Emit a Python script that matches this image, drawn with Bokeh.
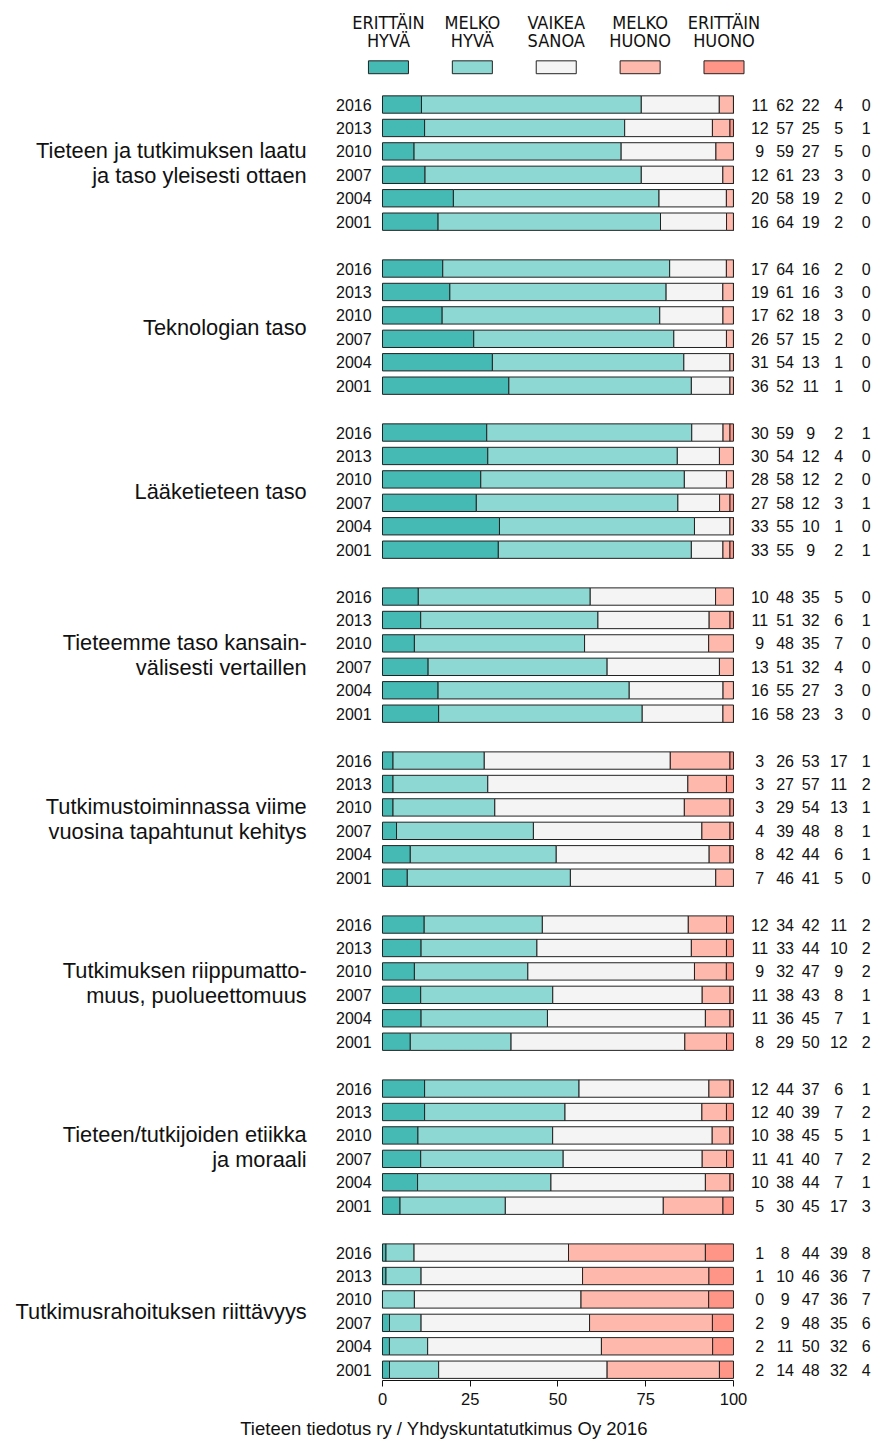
from bokeh.plotting import figure
from bokeh.models import Range1d, FixedTicker, Title, ColumnDataSource
from bokeh.core.properties import value
from bokeh.embed import file_html
from bokeh.resources import INLINE

groups = [
    "Tieteen ja tutkimuksen laatu\nja taso yleisesti ottaen",
    "Teknologian taso",
    "Lääketieteen taso",
    "Tieteemme taso kansain-\nvälisesti vertaillen",
    "Tutkimustoiminnassa viime\nvuosina tapahtunut kehitys",
    "Tutkimuksen riippumatto-\nmuus, puolueettomuus",
    "Tieteen/tutkijoiden etiikka\nja moraali",
    "Tutkimusrahoituksen riittävyys",
]
years = ["2016", "2013", "2010", "2007", "2004", "2001"]
categories = ["ERITTÄIN\nHYVÄ", "MELKO\nHYVÄ", "VAIKEA\nSANOA", "MELKO\nHUONO", "ERITTÄIN\nHUONO"]
colors = ["#45B9B4", "#8DD8D3", "#F4F4F4", "#FFB9AC", "#FF9587"]

erittain_hyva = [11, 12, 9, 12, 20, 16,
                 17, 19, 17, 26, 31, 36,
                 30, 30, 28, 27, 33, 33,
                 10, 11, 9, 13, 16, 16,
                 3, 3, 3, 4, 8, 7,
                 12, 11, 9, 11, 11, 8,
                 12, 12, 10, 11, 10, 5,
                 1, 1, 0, 2, 2, 2]
melko_hyva = [62, 57, 59, 61, 58, 64,
              64, 61, 62, 57, 54, 52,
              59, 54, 58, 58, 55, 55,
              48, 51, 48, 51, 55, 58,
              26, 27, 29, 39, 42, 46,
              34, 33, 32, 38, 36, 29,
              44, 40, 38, 41, 38, 30,
              8, 10, 9, 9, 11, 14]
vaikea_sanoa = [22, 25, 27, 23, 19, 19,
                16, 16, 18, 15, 13, 11,
                9, 12, 12, 12, 10, 9,
                35, 32, 35, 32, 27, 23,
                53, 57, 54, 48, 44, 41,
                42, 44, 47, 43, 45, 50,
                37, 39, 45, 40, 44, 45,
                44, 46, 47, 48, 50, 48]
melko_huono = [4, 5, 5, 3, 2, 2,
               2, 3, 3, 2, 1, 1,
               2, 4, 2, 3, 1, 2,
               5, 6, 7, 4, 3, 3,
               17, 11, 13, 8, 6, 5,
               11, 10, 9, 8, 7, 12,
               6, 7, 5, 7, 7, 17,
               39, 36, 36, 35, 32, 32]
erittain_huono = [0, 1, 0, 0, 0, 0,
                  0, 0, 0, 0, 0, 0,
                  1, 0, 0, 1, 0, 1,
                  0, 1, 0, 0, 0, 0,
                  1, 2, 1, 1, 1, 0,
                  2, 2, 2, 1, 1, 2,
                  1, 2, 1, 2, 1, 3,
                  8, 7, 7, 6, 6, 4]

series = [erittain_hyva, melko_hyva, vaikea_sanoa, melko_huono, erittain_huono]
FONT = value("Liberation Sans")

n_years = len(years)
rows = []
for g in range(len(groups)):
    for r in range(n_years):
        rows.append(g * (n_years + 1) + r)

p = figure(width=887, height=1446, output_backend="svg", toolbar_location=None,
           x_range=Range1d(-108.83, 143.88), y_range=Range1d(54.46, -4.44),
           y_axis_location=None, min_border_left=0, min_border_right=0,
           min_border_top=0, min_border_bottom=0)
p.outline_line_color = None
p.xgrid.visible = False
p.ygrid.visible = False

# stacked, normalised bars
totals = [sum(s[i] for s in series) for i in range(len(rows))]
left = [0.0] * len(rows)
for ci, s in enumerate(series):
    widths = [s[i] / totals[i] * 100 for i in range(len(rows))]
    right = [left[i] + widths[i] for i in range(len(rows))]
    src = ColumnDataSource(dict(y=rows, left=left, right=right))
    p.hbar(y="y", left="left", right="right", height=0.74, source=src,
           fill_color=colors[ci], line_color="#222222", line_width=1)
    left = right

# value columns
col_x = [107.5, 114.7, 122.0, 130.0, 137.8]
for ci, s in enumerate(series):
    src = ColumnDataSource(dict(x=[col_x[ci]] * len(rows), y=rows, t=[str(v) for v in s]))
    p.text(x="x", y="y", text="t", source=src, text_align="center", text_baseline="middle",
           text_font=FONT, text_font_size="16px", text_color="#111111")

# year labels
ysrc = ColumnDataSource(dict(x=[-3.1] * len(rows), y=rows, t=years * len(groups)))
p.text(x="x", y="y", text="t", source=ysrc, text_align="right", text_baseline="middle",
       text_font=FONT, text_font_size="16px", text_color="#111111")

# group labels
gy = [g * (n_years + 1) + (n_years - 1) / 2 for g in range(len(groups))]
gsrc = ColumnDataSource(dict(x=[-21.6] * len(groups), y=gy, t=groups))
p.text(x="x", y="y", text="t", source=gsrc, text_align="right", text_baseline="middle",
       text_font=FONT, text_font_size="21.8px", text_line_height=0.98, text_color="#111111")

# legend
lx = [1.7 + 23.9 * i for i in range(len(categories))]
p.rect(x=lx, y=[-1.59] * len(categories), width=11.4, height=0.55,
       fill_color=colors, line_color="#222222", line_width=1)
p.text(x=lx, y=[-3.12] * len(categories), text=categories, text_align="center",
       text_baseline="middle", text_font=value("DejaVu Sans Condensed, Liberation Sans"),
       text_font_size="18px", text_line_height=0.86, text_color="#111111")

# x axis
ax = p.xaxis[0]
ax.bounds = (0, 100)
ax.ticker = FixedTicker(ticks=[0, 25, 50, 75, 100])
ax.minor_tick_line_color = None
ax.major_tick_out = 6
ax.major_tick_in = 0
ax.axis_line_color = "#111111"
ax.major_tick_line_color = "#111111"
ax.major_label_text_font = "Liberation Sans"
ax.major_label_text_font_size = "16.5px"
ax.major_label_text_color = "#111111"
ax.major_label_standoff = 6

footer = Title(text="Tieteen tiedotus ry / Yhdyskuntatutkimus Oy 2016", align="center",
               text_font="Liberation Sans", text_font_size="18.5px", text_font_style="normal",
               text_color="#111111", standoff=16)
p.add_layout(footer, "below")

open("out.html", "w").write(file_html(p, INLINE))
